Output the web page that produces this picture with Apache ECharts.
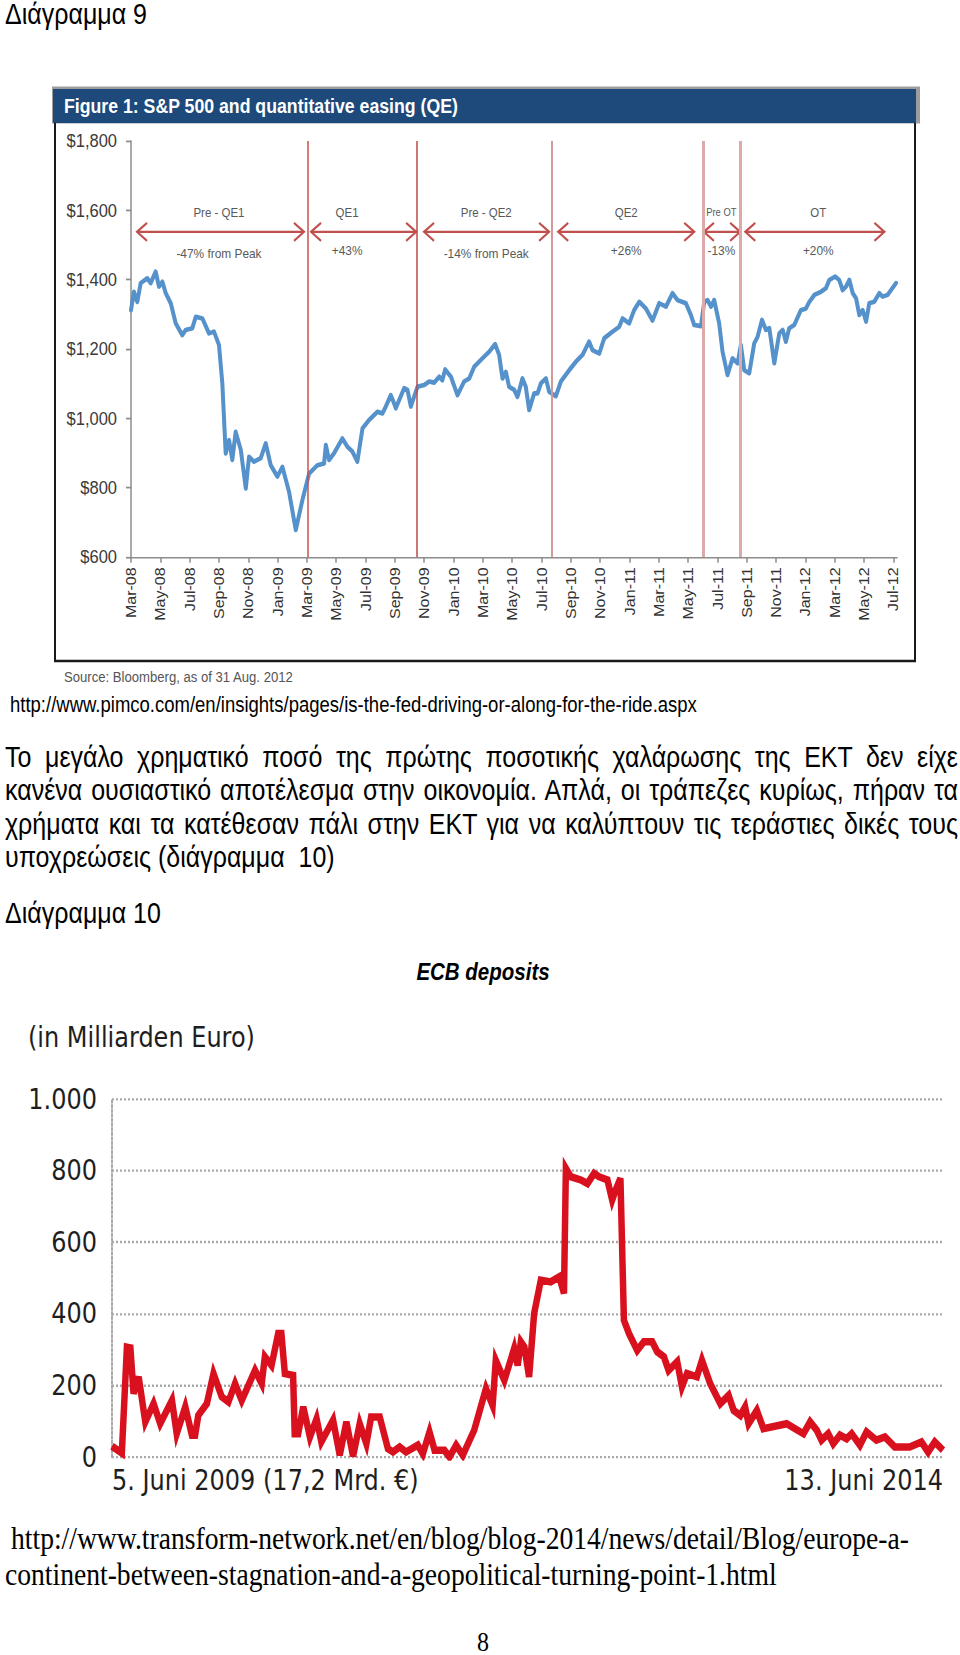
<!DOCTYPE html>
<html>
<head>
<meta charset="utf-8">
<title>Διάγραμμα 9 – Διάγραμμα 10</title>
<script src="https://cdn.jsdelivr.net/npm/echarts@6.0.0/dist/echarts.min.js"></script>
<style>
  html, body { margin:0; padding:0; background:#fff; }
  body { width:960px; height:1655px; overflow:hidden; position:relative; }
  #page { position:absolute; left:0; top:0; width:960px; transform-origin:0 0; }
  #chart { position:absolute; left:0; top:0; width:960px; }
  .doc { position:absolute; white-space:nowrap; color:#000; font-family:'Liberation Sans', Arial, sans-serif; }
  .just { text-align:justify; text-align-last:justify; }
  .serif { font-family:'Liberation Serif', 'Times New Roman', serif; }
</style>
</head>
<body>
<div id="page"><div id="chart"></div></div>
<script>
// ---------------- DATA ----------------
// Figure 1: S&P 500, x = months since 1 Mar 2008
const spMonths = [0.0,0.2,0.43,0.66,1.11,1.34,1.68,1.91,2.14,2.37,2.71,3.05,3.5,3.73,4.18,4.42,4.87,5.32,5.66,6.0,6.23,6.46,6.69,6.91,7.14,7.49,7.83,8.05,8.39,8.85,9.19,9.53,9.98,10.33,10.78,11.24,11.69,12.15,12.72,13.17,13.29,13.51,13.85,14.42,14.76,15.1,15.44,15.79,16.24,16.81,17.15,17.38,17.72,17.95,18.06,18.63,18.86,19.09,19.54,20.0,20.34,20.68,21.02,21.24,21.43,21.82,22.27,22.72,23.07,23.41,23.97,24.43,24.84,25.11,25.34,25.57,25.79,26.14,26.36,26.7,26.93,27.16,27.5,27.73,27.96,28.3,28.52,28.98,29.32,29.89,30.34,30.8,31.25,31.48,31.94,32.28,32.85,33.3,33.53,33.98,34.32,34.67,35.12,35.57,36.03,36.49,36.94,37.28,37.85,38.19,38.42,38.88,39.1,39.33,39.56,39.78,40.12,40.35,40.69,41.03,41.38,41.6,41.83,42.17,42.51,42.74,43.04,43.31,43.54,43.88,44.22,44.45,44.67,44.9,45.24,45.69,46.04,46.27,46.61,47.06,47.4,47.63,48.04,48.31,48.54,48.77,49.0,49.23,49.46,49.68,49.91,50.14,50.36,50.7,51.04,51.27,51.61,51.84,52.18];
const spValues = [1312,1365,1336,1390,1404,1390,1423,1380,1394,1361,1332,1274,1240,1255,1260,1293,1288,1245,1250,1212,1101,899,937,880,961,909,798,889,875,885,928,865,832,860,788,678,764,841,865,870,923,880,899,942,918,904,875,971,995,1019,1014,1034,1067,1043,1029,1087,1082,1034,1091,1096,1106,1103,1120,1110,1141,1120,1067,1106,1115,1149,1173,1192,1214,1183,1115,1134,1091,1082,1062,1115,1091,1024,1072,1072,1101,1115,1077,1064,1106,1139,1163,1183,1221,1197,1187,1231,1250,1264,1288,1274,1312,1336,1317,1282,1332,1322,1361,1341,1332,1298,1269,1266,1336,1341,1322,1341,1274,1192,1125,1173,1159,1212,1139,1130,1216,1235,1284,1255,1260,1159,1245,1255,1221,1260,1269,1312,1317,1336,1356,1365,1375,1399,1409,1399,1370,1380,1399,1361,1346,1298,1312,1279,1332,1336,1361,1351,1356,1370,1390];
const spTickLabels = ['Mar-08','May-08','Jul-08','Sep-08','Nov-08','Jan-09','Mar-09','May-09','Jul-09','Sep-09','Nov-09','Jan-10','Mar-10','May-10','Jul-10','Sep-10','Nov-10','Jan-11','Mar-11','May-11','Jul-11','Sep-11','Nov-11','Jan-12','Mar-12','May-12','Jul-12'];
const spYTickLabels = ['$600','$800','$1,000','$1,200','$1,400','$1,600','$1,800'];
const qeLines = [12.08, 19.52, 28.73, 39.03, 41.56];          // policy dates (months since Mar-08)
const phaseNames = ['Pre - QE1','QE1','Pre - QE2','QE2','Pre OT','OT'];
const phaseChanges = ['-47% from Peak','+43%','-14% from Peak','+26%','-13%','+20%'];
const phaseStart = [0.41, 12.28, 19.99, 29.14, 39.08, 41.9];
const phaseEnd   = [11.8, 19.45, 28.52, 38.42, 41.55, 51.39];
const phaseLabelAt = [6.0, 14.74, 24.23, 33.78, 40.27, 46.88];
const arrowLevel = 1538;

// Diagram 10: ECB deposits, x = weeks since 5 June 2009, values in bn EUR
const ecbWeeks = [0,3.1,4.7,5.8,6.8,8.4,10.5,13.1,15.2,18.9,20.4,23.1,25.2,26.2,27.2,29.9,32.0,34.6,36.7,38.8,40.9,45.1,47.2,48.2,50.3,52.4,53.4,54.5,57.1,57.6,58.7,60.3,62.4,64.5,66.0,69.7,71.8,73.9,76.0,78.1,80.2,81.7,84.4,87.0,88.6,90.7,92.7,96.4,98.0,100.1,101.7,104.8,106.4,108.5,110.6,114.2,117.9,120.0,121.0,123.7,126.8,127.9,128.9,130.0,131.5,133.1,135.2,138.3,141.0,142.5,143.1,144.6,147.8,149.9,152.0,153.5,156.2,157.7,158.8,160.3,161.4,163.0,165.6,167.7,170.3,171.9,174.0,175.5,178.2,179.7,181.3,184.4,186.0,188.6,191.8,194.4,196.0,198.1,199.6,200.7,203.3,205.4,212.7,218.0,220.1,222.2,223.7,225.8,227.4,229.5,231.6,233.2,235.8,237.9,241.0,243.7,246.8,251.5,255.2,257.3,259.4,262];
const ecbValues = [30,11,307,305,177,224,98,149,93,158,65,140,61,61,116,149,233,168,154,205,158,242,205,280,256,345,345,233,228,65,65,140,56,107,42,103,5,98,2,93,37,112,112,23,14,28,14,33,9,70,19,19,0,33,5,75,191,144,270,214,303,256,322,308,224,401,494,489,503,457,806,783,774,764,792,783,774,718,746,778,382,345,298,322,322,294,280,242,266,196,233,224,270,205,149,172,130,116,140,93,130,79,93,65,98,75,47,65,37,61,51,65,33,70,47,56,28,28,42,14,42,19];
const ecbYTickLabels = ['0','200','400','600','800','1.000'];
const ecbEdgeLabels = ['5. Juni 2009 (17,2 Mrd. €)', '13. Juni 2014'];

// ---------------- LAYOUT ----------------
const S = 1.15;                 // the scanned page is stretched vertically
const U = v => v / S;           // page pixel -> unstretched pixel
const PAGE_H = 1655;
const page = document.getElementById('page');
page.style.height = U(PAGE_H) + 'px';
page.style.transform = 'scaleY(' + S + ')';
const chartDiv = document.getElementById('chart');
chartDiv.style.height = U(PAGE_H) + 'px';

function hasFont(name) {
  const c = document.createElement('canvas').getContext('2d');
  const probe = 'abcdefghijklmMWi0123';
  c.font = '20px monospace';
  const w1 = c.measureText(probe).width;
  c.font = "20px '" + name + "', monospace";
  return c.measureText(probe).width !== w1;
}
const NARROW_OK = hasFont('Liberation Sans Narrow');
const NARROW = NARROW_OK ? 'Liberation Sans Narrow' : 'Liberation Sans';
const nsz = s => NARROW_OK ? s : s * 0.82;

// document text (HTML)
const docTexts = [
  {t:'Διάγραμμα 9', x:5, cy:14, fs:25},
  {t:'http://www.pimco.com/en/insights/pages/is-the-fed-driving-or-along-for-the-ride.aspx', x:10, cy:705, fs:18.5},
  {t:'Το μεγάλο χρηματικό ποσό της πρώτης ποσοτικής χαλάρωσης της ΕΚΤ δεν είχε', x:5, cy:757.5, fs:25, w:953},
  {t:'κανένα ουσιαστικό αποτέλεσμα στην οικονομία. Απλά, οι τράπεζες κυρίως, πήραν τα', x:5, cy:791, fs:25, w:953},
  {t:'χρήματα και τα κατέθεσαν πάλι στην ΕΚΤ για να καλύπτουν τις τεράστιες δικές τους', x:5, cy:824, fs:25, w:953},
  {t:'υποχρεώσεις (διάγραμμα\u00a0 10)', x:5, cy:857, fs:25},
  {t:'Διάγραμμα 10', x:5, cy:913.6, fs:25},
  {t:'http://www.transform-network.net/en/blog/blog-2014/news/detail/Blog/europe-a-', x:11, cy:1539, fs:27.6, serif:true},
  {t:'continent-between-stagnation-and-a-geopolitical-turning-point-1.html', x:5, cy:1574, fs:27.6, serif:true},
  {t:'8', x:477, cy:1643, fs:24, serif:true}
];
docTexts.forEach(d => {
  const el = document.createElement('div');
  el.className = 'doc' + (d.w ? ' just' : '') + (d.serif ? ' serif' : '');
  el.textContent = d.t;
  const lh = d.fs * 1.15;
  el.style.fontSize = d.fs + 'px';
  el.style.lineHeight = lh + 'px';
  el.style.left = d.x + 'px';
  el.style.top = (U(d.cy) - lh / 2) + 'px';
  if (d.w) el.style.width = d.w + 'px';
  page.appendChild(el);
});

// ---------------- CHARTS ----------------
const chart = echarts.init(chartDiv, null, {renderer: 'svg'});
const spTickValues = spTickLabels.map((_, i) => i * 2);
const qeLineColors = ['#c9504c', '#b84a47', '#d39a98', '#dcaaa9', '#dcaaa9'];
const qeLineWidths = [1.5, 1.5, 2, 3, 3];

const option = {
  animation: false,
  grid: [
    {left: 131, top: U(141), width: 766, height: U(557) - U(141), outerBoundsMode: 'none'},
    {left: 112, top: U(1099), width: 831, height: U(1457) - U(1099), outerBoundsMode: 'none'}
  ],
  xAxis: [
    {
      type: 'value', gridIndex: 0, min: 0, max: 52.25,
      axisLine: {show: true, onZero: false, lineStyle: {color: '#8c8c8c', width: 1.5}},
      axisTick: {show: true, length: 5, customValues: spTickValues, lineStyle: {color: '#8c8c8c', width: 1.5}},
      axisLabel: {
        customValues: spTickValues, rotate: 90, margin: 9,
        formatter: v => spTickLabels[Math.round(v / 2)] || '',
        color: '#333', fontFamily: NARROW, fontSize: nsz(17)
      },
      splitLine: {show: false}
    },
    {
      type: 'value', gridIndex: 1, min: 0, max: 262,
      axisLine: {show: false}, axisTick: {show: false}, splitLine: {show: false},
      axisLabel: {
        customValues: [0, 262], margin: 8,
        formatter: v => (v === 0 ? ecbEdgeLabels[0] : ecbEdgeLabels[1]),
        alignMinLabel: 'left', alignMaxLabel: 'right',
        color: '#1e1e1e', fontFamily: 'DejaVu Sans', fontSize: 24
      }
    }
  ],
  yAxis: [
    {
      type: 'value', gridIndex: 0, min: 600, max: 1800, interval: 200,
      axisLine: {show: true, onZero: false, lineStyle: {color: '#8c8c8c', width: 1.5}},
      axisTick: {show: true, length: 5, lineStyle: {color: '#8c8c8c', width: 1.5}},
      axisLabel: {
        margin: 14, formatter: v => spYTickLabels[Math.round((v - 600) / 200)] || '',
        color: '#3a3a3a', fontFamily: 'Liberation Sans', fontSize: 16.5
      },
      splitLine: {show: false}
    },
    {
      type: 'value', gridIndex: 1, min: 0, max: 1000, interval: 200,
      axisLine: {show: true, lineStyle: {color: '#a9a9a9', width: 2, type: 'dotted'}},
      axisTick: {show: false},
      axisLabel: {
        margin: 15, formatter: v => ecbYTickLabels[Math.round(v / 200)] || '',
        color: '#1e1e1e', fontFamily: 'DejaVu Sans', fontSize: 24
      },
      splitLine: {show: true, lineStyle: {color: '#a9a9a9', width: 2, type: 'dotted'}}
    }
  ],
  series: [
    {
      type: 'line', xAxisIndex: 0, yAxisIndex: 0, showSymbol: false, symbol: 'none',
      data: spMonths.map((m, i) => [m, spValues[i]]),
      lineStyle: {color: '#5591cb', width: 4, join: 'round', cap: 'round'},
      z: 3,
      markLine: {
        silent: true, symbol: ['none', 'none'], label: {show: false}, animation: false,
        data: qeLines.map((m, i) => ({xAxis: m, lineStyle: {color: qeLineColors[i], width: qeLineWidths[i], type: 'solid'}}))
      }
    },
    {
      type: 'line', xAxisIndex: 1, yAxisIndex: 1, showSymbol: false, symbol: 'none',
      data: ecbWeeks.map((w, i) => [w, ecbValues[i]]),
      lineStyle: {color: '#d9111f', width: 6.5, join: 'miter', cap: 'butt', miterLimit: 4},
      z: 3
    }
  ]
};
chart.setOption(option);

// ---------------- ANNOTATIONS ----------------
const gfx = [];
const txt = (x, y, text, font, fill, align, valign) => ({
  type: 'text', x, y, silent: true,
  style: {text, font, fill, textAlign: align || 'left', textVerticalAlign: valign || 'middle', align: align || 'left', verticalAlign: valign || 'middle'}
});
// figure frame and title bar
gfx.push({type: 'rect', silent: true, shape: {x: 52, y: U(86.5), width: 868, height: U(37)}, style: {fill: '#9d9d9d'}});
gfx.push({type: 'rect', silent: true, shape: {x: 53, y: U(89), width: 863, height: U(34)}, style: {fill: '#1d4a7a'}});
gfx.push({type: 'polyline', silent: true, shape: {points: [[55, U(123)], [55, U(661)], [915, U(661)], [915, U(123)]]}, style: {stroke: '#1a1a1a', lineWidth: 2, fill: null}});
gfx.push(txt(64, U(106.5), 'Figure 1: S&P 500 and quantitative easing (QE)', 'bold 17.7px "Liberation Sans", Arial, sans-serif', '#ffffff'));
gfx.push(txt(64, U(677), 'Source: Bloomberg, as of 31 Aug. 2012', nsz(16) + 'px "' + NARROW + '", sans-serif', '#555555'));

// phase arrows
const arrowColor = '#c0504d';
const head = 10, headH = U(9);
phaseNames.forEach((name, i) => {
  const a = chart.convertToPixel({xAxisIndex: 0, yAxisIndex: 0}, [phaseStart[i], arrowLevel]);
  const b = chart.convertToPixel({xAxisIndex: 0, yAxisIndex: 0}, [phaseEnd[i], arrowLevel]);
  const c = chart.convertToPixel({xAxisIndex: 0, yAxisIndex: 0}, [phaseLabelAt[i], arrowLevel]);
  const y = a[1];
  gfx.push({type: 'line', silent: true, shape: {x1: a[0], y1: y, x2: b[0], y2: y}, style: {stroke: arrowColor, lineWidth: 2}});
  gfx.push({type: 'polyline', silent: true, shape: {points: [[a[0] + head, y - headH], [a[0], y], [a[0] + head, y + headH]]}, style: {stroke: arrowColor, lineWidth: 2, fill: null}});
  gfx.push({type: 'polyline', silent: true, shape: {points: [[b[0] - head, y - headH], [b[0], y], [b[0] - head, y + headH]]}, style: {stroke: arrowColor, lineWidth: 2, fill: null}});
  const small = name === 'Pre OT';
  const long = phaseChanges[i].length > 6;
  gfx.push(txt(c[0], y - U(19.5), name, nsz(small ? 11.5 : 14) + 'px "' + NARROW + '", sans-serif', '#595959', 'center'));
  gfx.push(txt(c[0], y + U(long ? 21 : 18.5), phaseChanges[i], nsz(14.5) + 'px "' + NARROW + '", sans-serif', '#595959', 'center'));
});

// diagram 10 titles
gfx.push(txt(483, U(972), 'ECB deposits', 'italic bold 20.5px "Liberation Sans", Arial, sans-serif', '#000000', 'center'));
gfx.push(txt(28, U(1037), '(in Milliarden Euro)', '24px "DejaVu Sans", sans-serif', '#1e1e1e'));

chart.setOption({graphic: {elements: gfx}});
</script>
</body>
</html>
